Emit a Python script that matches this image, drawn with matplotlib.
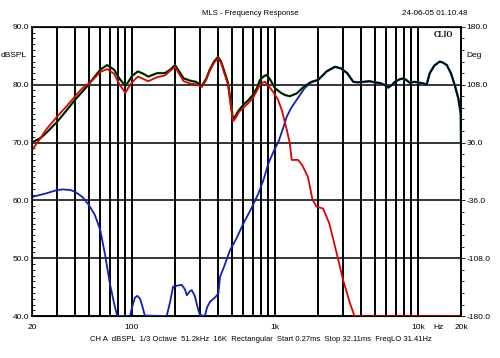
import numpy as np
import matplotlib
matplotlib.use("Agg")
import matplotlib.pyplot as plt
from matplotlib.ticker import FixedLocator, FuncFormatter

plt.rcParams['font.family'] = ['Liberation Sans', 'DejaVu Sans']

# summed response (black / green)
f_sum = [20, 23, 25, 30, 35, 40, 45, 50, 55, 60, 67, 75, 82, 90, 95, 100, 110, 120, 130,
         150, 170, 185, 200, 215, 230, 255, 280, 308, 330, 350, 375, 400, 420, 440, 470,
         490, 509, 530, 560, 600, 650, 700, 750, 785, 830, 875, 930, 1000, 1100, 1180,
         1270, 1420, 1600, 1800, 2000, 2300, 2630, 2900, 3200, 3530, 3800, 4170, 4600,
         5000, 5400, 5800, 6200, 6600, 6900, 7400, 7900, 8300, 8800, 9400, 10000, 11000,
         11500, 12100, 13000, 14200, 15000, 15900, 17000, 18200, 19200, 19900, 20000]
db_sum = [70.0, 70.8, 71.6, 73.6, 75.6, 77.4, 78.8, 80.1, 81.4, 82.6, 83.4, 82.6, 81.0,
          79.8, 80.6, 81.5, 82.3, 81.9, 81.4, 82.0, 82.0, 82.6, 83.4, 82.2, 81.1, 80.7,
          80.5, 79.8, 81.0, 82.6, 84.0, 84.8, 84.0, 82.5, 80.3, 77.0, 74.0, 74.6, 75.6,
          76.5, 77.3, 78.2, 79.5, 80.8, 81.4, 81.7, 80.8, 79.4, 78.6, 78.2, 78.0, 78.5,
          79.7, 80.5, 80.8, 82.3, 83.1, 82.8, 82.0, 80.5, 80.4, 80.5, 80.6, 80.4, 80.3,
          80.0, 79.5, 80.0, 80.5, 80.9, 81.1, 80.8, 80.3, 80.5, 80.4, 80.2, 80.0, 82.0,
          83.3, 84.0, 83.8, 83.4, 82.0, 79.7, 77.5, 75.0, 69.0]

# woofer (red)
f_wf = [20, 23, 25, 30, 35, 40, 45, 50, 55, 60, 67, 75, 82, 90, 95, 100, 110, 120, 130,
        150, 170, 185, 200, 215, 230, 255, 280, 308, 330, 350, 375, 400, 420, 440, 470,
        490, 509, 530, 560, 600, 650, 700, 750, 785, 830, 853, 900, 970, 1050, 1120,
        1210, 1270, 1310, 1450, 1550, 1700, 1830, 1960, 2170, 2400, 2700, 3000, 3350,
        3600, 20000]
db_wf = [68.7, 70.8, 72.2, 74.5, 76.3, 78.0, 79.4, 80.2, 81.2, 82.2, 82.7, 81.9, 80.0,
         78.6, 79.6, 80.4, 81.4, 81.0, 80.6, 81.3, 81.6, 82.4, 83.1, 81.8, 80.6, 80.2,
         80.1, 79.6, 80.8, 82.4, 83.8, 84.6, 83.8, 82.2, 80.0, 76.5, 73.7, 74.2, 75.3,
         76.0, 76.8, 77.7, 79.0, 80.0, 80.4, 80.5, 79.8, 78.8, 77.4, 75.5, 72.2, 69.9,
         67.0, 67.0, 66.1, 64.1, 60.1, 58.9, 58.6, 56.0, 50.9, 46.2, 42.2, 40.0, 40.0]

# tweeter (blue), above 2 kHz it sits on the summed curve
f_tw = [20, 25, 30, 33, 37, 40, 45, 50, 55, 60, 65, 70, 75, 79, 97, 100, 105, 109, 114,
        118, 123, 175, 185, 194, 210, 223, 235, 242, 252, 262, 275, 290, 299, 324, 335,
        352, 380, 402, 413, 440, 485, 540, 601, 680, 766, 830, 900, 980, 1060, 1130,
        1210, 1300, 1420, 1600, 1760, 1960]
db_tw = [60.6, 61.2, 61.8, 61.9, 61.8, 61.5, 60.6, 59.2, 57.5, 54.9, 50.5, 45.7, 42.2,
         40.0, 40.0, 41.5, 43.2, 43.5, 43.0, 41.8, 40.1, 40.0, 42.5, 45.1, 45.3, 45.4,
         44.6, 43.6, 44.2, 44.5, 43.5, 41.2, 40.2, 40.0, 41.5, 42.5, 43.2, 43.9, 46.8,
         48.5, 51.4, 53.5, 56.0, 58.5, 61.2, 63.5, 66.4, 68.5, 70.2, 72.2, 74.5, 76.0,
         77.4, 79.3, 80.3, 80.8]
f_tw = f_tw + [f for f in f_sum if f >= 2000]
db_tw = db_tw + [d for f, d in zip(f_sum, db_sum) if f >= 2000]

grid_f = [20, 30, 40, 50, 60, 70, 80, 90, 100, 200, 300, 400, 500, 600, 700, 800, 900,
          1000, 2000, 3000, 4000, 5000, 6000, 7000, 8000, 9000, 10000, 20000]
db_ticks = [40, 50, 60, 70, 80, 90]
deg_ticks = [-180, -108, -36, 36, 108, 180]

fig = plt.figure(figsize=(5, 3.58), dpi=100)
ax = fig.add_axes([0.064, 0.117, 0.858, 0.808])
ax.set_xscale('log')
ax.set_xlim(20, 20000)
ax.set_ylim(40, 90)

for f in grid_f:
    ax.axvline(f, color='black', lw=1.4, zorder=1)
for d in db_ticks:
    ax.axhline(d, color='black', lw=1.1, zorder=1)

ax.plot(f_sum, db_sum, color='#109010', lw=1.7, zorder=2)
ax.plot(f_tw, db_tw, color='#1020c0', lw=1.3, zorder=3, clip_on=False)
ax.plot(f_sum, db_sum, color='black', lw=1.0, zorder=4)
ax.plot(f_wf, db_wf, color='#e00000', lw=1.3, zorder=5, clip_on=False)

ax.xaxis.set_major_locator(FixedLocator([]))
ax.xaxis.set_minor_locator(FixedLocator([]))
ax.tick_params(axis='x', length=0)
ax.set_yticks(db_ticks)
ax.set_yticks(np.arange(40, 91, 1), minor=True)
ax.yaxis.set_major_formatter(FuncFormatter(lambda v, p: '%.1f' % v))
ax.tick_params(axis='y', which='major', direction='in', length=0, labelsize=6, pad=2)
ax.tick_params(axis='y', which='minor', direction='in', length=2.5, width=0.6)
for s in ax.spines.values():
    s.set_linewidth(1.2)

ax2 = ax.twinx()
ax2.set_ylim(-180, 180)
ax2.set_yticks(deg_ticks)
ax2.set_yticks(np.arange(-180, 181, 14.4), minor=True)
ax2.yaxis.set_major_formatter(FuncFormatter(lambda v, p: '%.1f' % v))
ax2.tick_params(axis='y', which='major', direction='out', length=3, width=0.6,
                labelsize=6, pad=1)
ax2.tick_params(axis='y', which='minor', direction='out', length=2.5, width=0.6)
ax2.spines['right'].set_linewidth(1.2)

# x labels
for f, lab in [(20, '20'), (100, '100'), (1000, '1k'), (10000, '10k'), (20000, '20k')]:
    ax.text(f, 38.6, lab, ha='center', va='top', fontsize=6)
ax.text(14000, 38.6, 'Hz', ha='center', va='top', fontsize=6)

ax.text(-0.012, 85, 'dBSPL', transform=ax.get_yaxis_transform(), ha='right',
        va='center', fontsize=6)
ax.text(1.012, 85, 'Deg', transform=ax.get_yaxis_transform(), ha='left',
        va='center', fontsize=6)
ax.text(0.982, 0.985, 'CLIO', transform=ax.transAxes, ha='right', va='top',
        fontsize=5.5, fontweight='bold', family=['Liberation Serif', 'DejaVu Serif'])

fig.text(0.5, 0.963, 'MLS - Frequency Response', ha='center', va='center', fontsize=5.6)
fig.text(0.936, 0.963, '24-06-05 01.10.48', ha='right', va='center', fontsize=5.8)
fig.text(0.18, 0.053, 'CH A  dBSPL  1/3 Octave  51.2kHz  16K  Rectangular  '
         'Start 0.27ms  Stop 32.11ms  FreqLO 31.41Hz', ha='left', va='center',
         fontsize=5.5)

fig.savefig('out.png', dpi=100, facecolor='white')
